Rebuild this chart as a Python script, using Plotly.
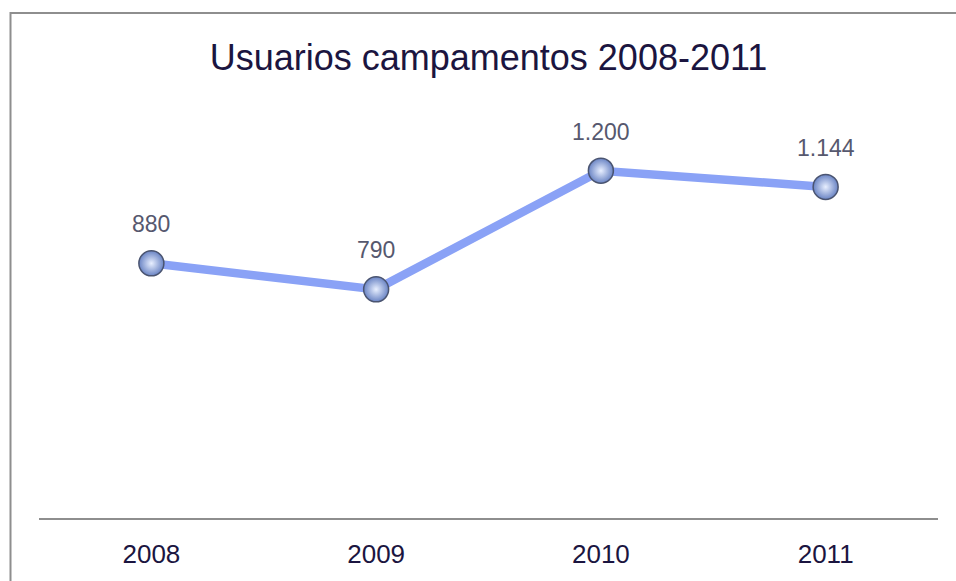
import plotly.graph_objects as go

years = ["2008", "2009", "2010", "2011"]
usuarios = [880, 790, 1200, 1144]
title_text = "Usuarios campamentos 2008-2011"

def fmt(v):
    return f"{v:,}".replace(",", ".")

fig = go.Figure()
fig.add_trace(go.Scatter(
    x=years, y=usuarios, mode="lines+markers",
    line=dict(color="#8aa2f6", width=8.5),
    marker=dict(size=25, color="#6a84c4",
                gradient=dict(type="radial", color="#e8efff"),
                line=dict(color="#4a5470", width=1.5)),
    hoverinfo="skip", cliponaxis=False,
))

for i, v in enumerate(usuarios):
    fig.add_annotation(x=i, y=v, text=fmt(v), showarrow=False, yshift=39,
                       font=dict(size=23, color="#56586e"))

fig.add_shape(type="rect", xref="paper", yref="paper",
              x0=-0.0317, x1=1.1, y0=-0.3, y1=(525 - 12) / 444,
              line=dict(color="#8e8e8e", width=2), layer="below")

fig.update_layout(
    width=956, height=581,
    margin=dict(l=38.5, r=17.5, t=81, b=56),
    paper_bgcolor="white", plot_bgcolor="white",
    font=dict(family="Liberation Sans, Arial, sans-serif"),
    showlegend=False,
    title=dict(text=title_text, x=0.5, xref="paper", xanchor="center",
               y=0.902, yanchor="middle",
               font=dict(size=36, color="#1b1540")),
    xaxis=dict(type="category", range=[-0.5, 3.5], showgrid=False,
               showline=True, linecolor="#8e8e8e", linewidth=2,
               ticks="", tickfont=dict(size=26, color="#1b1540"),
               ticklabelstandoff=12,
               zeroline=False, fixedrange=True),
    yaxis=dict(range=[0, 1510], visible=False, showgrid=False,
               zeroline=False, fixedrange=True),
)

fig.write_html("out.html", config={"displayModeBar": False},
               post_script="document.body.style.margin='0';")
